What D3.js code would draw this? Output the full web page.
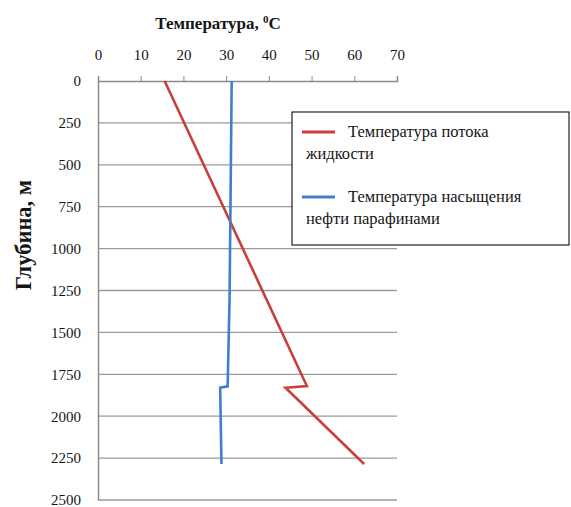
<!DOCTYPE html>
<html>
<head>
<meta charset="utf-8">
<script src="https://d3js.org/d3.v7.min.js"></script>
<style>
  body { margin: 0; background: #fff; }
  svg { display: block; }
  svg text { font-family: "Liberation Serif", "Times New Roman", Tinos, "Nimbus Roman", "DejaVu Serif", serif; fill: #151515; }
</style>
</head>
<body>
<div id="chart"></div>
<script>
// values
var depthTicks = [0, 250, 500, 750, 1000, 1250, 1500, 1750, 2000, 2250, 2500];
var tempTicks = [0, 10, 20, 30, 40, 50, 60, 70];

var flowDepth = [0, 1820, 1830, 2285];
var flowTemp = [15.6, 48.9, 43.9, 62.3];

var waxDepth = [0, 1300, 1822, 1830, 2285];
var waxTemp = [31.3, 30.8, 30.35, 28.6, 28.9];

var seriesColors = ["#c8403d", "#3f7fcc"];

var width = 571, height = 507;
var margin = { top: 81, left: 98 };
var serif = "Liberation Serif, Times New Roman, Tinos, Nimbus Roman, DejaVu Serif, serif";

var svg = d3.select("#chart").append("svg")
  .attr("width", width)
  .attr("height", height);

var x = d3.scaleLinear().domain([0, 70]).range([margin.left, 397]);
var y = d3.scaleLinear().domain([0, 2500]).range([margin.top, 500]);

// horizontal gridlines
svg.append("g")
  .selectAll("line")
  .data(depthTicks.slice(1))
  .enter().append("line")
  .attr("x1", x(0)).attr("x2", x(70))
  .attr("y1", function(d){ return y(d); })
  .attr("y2", function(d){ return y(d); })
  .attr("stroke", "#9a9a9a")
  .attr("stroke-width", 1.3);

// left axis
var yAxis = svg.append("g")
  .attr("transform", "translate(" + x(0) + ",0)")
  .attr("font-family", serif)
  .call(d3.axisLeft(y).tickValues(depthTicks).tickSize(0).tickPadding(17).tickFormat(d3.format("d")));
yAxis.select(".domain").attr("stroke", "#8a8a8a").attr("stroke-width", 1.5);
yAxis.selectAll("text").attr("font-size", 15).attr("fill", "#151515");

// top axis
var xAxis = svg.append("g")
  .attr("transform", "translate(0," + y(0) + ")")
  .attr("font-family", serif)
  .call(d3.axisTop(x).tickValues(tempTicks).tickSizeInner(5).tickSizeOuter(5).tickPadding(16));
xAxis.select(".domain").attr("stroke", "#8a8a8a").attr("stroke-width", 1.5);
xAxis.selectAll(".tick line").attr("stroke", "#8a8a8a");
xAxis.selectAll("text").attr("font-size", 15).attr("fill", "#151515");

// axis titles
var title = svg.append("text")
  .attr("x", 218).attr("y", 29)
  .attr("text-anchor", "middle")
  .attr("font-size", 17)
  .attr("font-weight", "bold");
title.append("tspan").text("Температура, ");
title.append("tspan").attr("font-size", 11).attr("dy", -6).text("0");
title.append("tspan").attr("dy", 6).text("C");

svg.append("text")
  .attr("transform", "translate(31,235) rotate(-90)")
  .attr("text-anchor", "middle")
  .attr("font-size", 22.5)
  .attr("font-weight", "bold")
  .text("Глубина, м");

// series
var line = d3.line()
  .x(function(d){ return x(d[0]); })
  .y(function(d){ return y(d[1]); });

var series = [
  d3.zip(flowTemp, flowDepth),
  d3.zip(waxTemp, waxDepth)
];

svg.selectAll(".series")
  .data(series)
  .enter().append("path")
  .attr("class", "series")
  .attr("d", line)
  .attr("fill", "none")
  .attr("stroke", function(d, i){ return seriesColors[i]; })
  .attr("stroke-width", 2.6)
  .attr("stroke-linejoin", "miter");

// legend
var legend = svg.append("g");
legend.append("rect")
  .attr("x", 292).attr("y", 112)
  .attr("width", 277).attr("height", 133)
  .attr("fill", "#fff")
  .attr("stroke", "#222")
  .attr("stroke-width", 1.2);

var legendRows = [
  { lines: ["Температура потока", "жидкости"], y: 132 },
  { lines: ["Температура насыщения", "нефти парафинами"], y: 197 }
];

legendRows.forEach(function(r, i){
  legend.append("line")
    .attr("x1", 302).attr("x2", 335)
    .attr("y1", r.y).attr("y2", r.y)
    .attr("stroke", seriesColors[i])
    .attr("stroke-width", 3);
  legend.append("text")
    .attr("x", 348).attr("y", r.y + 5)
    .attr("font-size", 16.5)
    .text(r.lines[0]);
  legend.append("text")
    .attr("x", 306).attr("y", r.y + 27)
    .attr("font-size", 16.5)
    .text(r.lines[1]);
});
</script>
</body>
</html>
